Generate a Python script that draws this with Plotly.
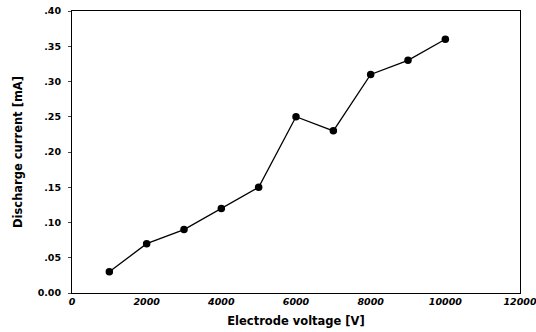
import plotly.graph_objects as go

voltage = [1000, 2000, 3000, 4000, 5000, 6000, 7000, 8000, 9000, 10000]
current = [0.03, 0.07, 0.09, 0.12, 0.15, 0.25, 0.23, 0.31, 0.33, 0.36]
x_ticks = [0, 2000, 4000, 6000, 8000, 10000, 12000]
y_ticks = [0, 0.05, 0.10, 0.15, 0.20, 0.25, 0.30, 0.35, 0.40]
y_labels = ["0.00", ".05", ".10", ".15", ".20", ".25", ".30", ".35", ".40"]

fig = go.Figure(go.Scatter(
    x=voltage, y=current, mode="lines+markers",
    line=dict(color="black", width=1.3),
    marker=dict(color="black", size=7.5),
))

font = "DejaVu Sans, sans-serif"
fig.update_layout(
    width=536, height=332,
    margin=dict(l=72, r=16, t=11, b=39),
    paper_bgcolor="white", plot_bgcolor="white",
    showlegend=False,
    font=dict(family=font, color="black", size=10),
)
fig.update_xaxes(
    range=[0, 12000], tickvals=x_ticks,
    ticktext=[f"<b><i>{v}</i></b>" for v in x_ticks],
    showgrid=False, zeroline=False, automargin=False,
    showline=True, linecolor="black", linewidth=1, mirror=True,
    ticks="", tickfont=dict(size=9.5), ticklabeloverflow="allow",
    title=dict(text="<b>Electrode voltage [V]</b>", font=dict(size=11.5), standoff=10),
)
fig.update_yaxes(
    range=[0, 0.40], tickvals=y_ticks,
    ticktext=[f"<b>{t}</b>" for t in y_labels],
    showgrid=False, zeroline=False, automargin=False,
    showline=True, linecolor="black", linewidth=1, mirror=True,
    ticks="outside", ticklen=3, tickfont=dict(size=9.5),
    ticklabelstandoff=5,
    title=dict(text="<b>Discharge current [mA]</b>", font=dict(size=11.5), standoff=12),
)
fig.write_html("out.html", config={"displayModeBar": False},
               post_script="document.body.style.margin='0';")
